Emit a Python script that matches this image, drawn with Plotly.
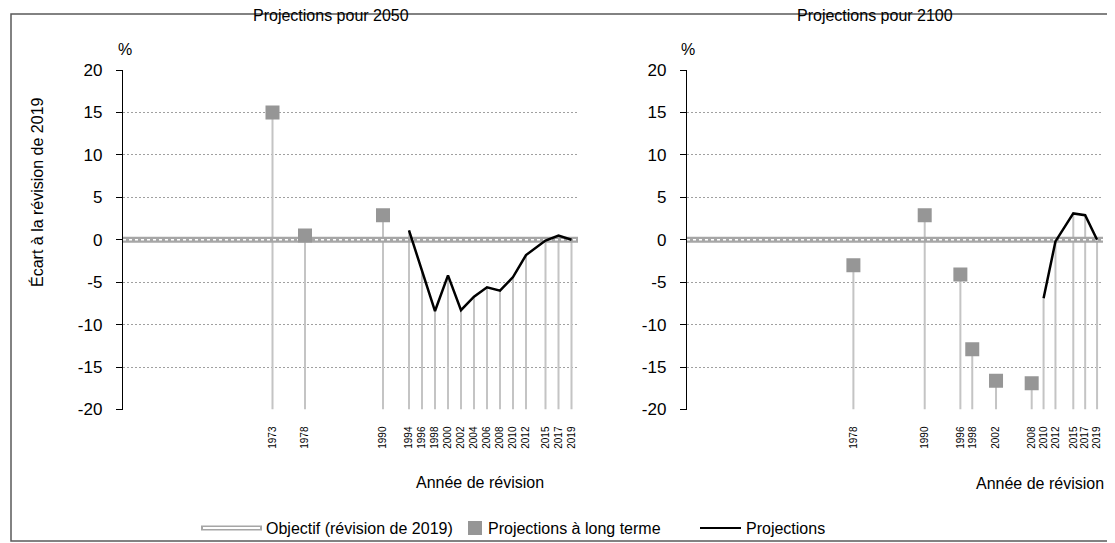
import plotly.graph_objects as go

# ---------------- Data ----------------
# Panel 1 : projections pour 2050
p1_lt_years = [1973, 1978, 1990]
p1_lt_values = [15.0, 0.5, 2.9]
p1_proj_years = [1994, 1996, 1998, 2000, 2002, 2004, 2006, 2008, 2010, 2012, 2015, 2017, 2019]
p1_proj_values = [1.1, -3.7, -8.4, -4.2, -8.3, -6.7, -5.6, -6.0, -4.4, -1.8, -0.1, 0.5, 0.0]

# Panel 2 : projections pour 2100
p2_lt_years = [1978, 1990, 1996, 1998, 2002, 2008]
p2_lt_values = [-3.0, 2.9, -4.1, -12.9, -16.6, -16.9]
p2_proj_years = [2010, 2012, 2015, 2017, 2019]
p2_proj_values = [-6.9, -0.2, 3.1, 2.9, 0.0]

objectif_value = 0.0
x_range = [1950, 2020]
y_ticks = [-20, -15, -10, -5, 0, 5, 10, 15, 20]
y_ticklabels = ["-20", "-15", "-10", "-5", "0", "5", "10", "15", "20"]

legend_labels = ["Objectif (révision de 2019)", "Projections à long terme", "Projections"]

FONT = "Liberation Sans, Arial, sans-serif"
SQ_COLOR = "#969696"
DROP_COLOR = "#c4c4c4"
OBJ_COLOR = "#a6a6a6"

# page body has an 8px margin: figure is placed at (8, 8) in the window
OFF = 8
W, H = 1115 - OFF, 543 - OFF


def px(sx):
    return (sx - OFF) / W


def py(sy):
    return 1 - (sy - OFF) / H


fig = go.Figure()


def drop_segments(years, values, base):
    xs, ys = [], []
    for yr, v in zip(years, values):
        xs += [yr, yr, None]
        ys += [base, v, None]
    return xs, ys


panels = [
    ("x", "y", p1_lt_years, p1_lt_values, p1_proj_years, p1_proj_values),
    ("x2", "y2", p2_lt_years, p2_lt_values, p2_proj_years, p2_proj_values),
]

for xa, ya, lty, ltv, pyr, pv in panels:
    # drop lines
    dx, dy = drop_segments(lty + pyr, ltv + pv, y_ticks[0])
    fig.add_trace(go.Scatter(x=dx, y=dy, mode="lines", xaxis=xa, yaxis=ya,
                             line=dict(color=DROP_COLOR, width=2),
                             hoverinfo="skip", showlegend=False))
    # objective line (double line: grey outer, white inner)
    fig.add_trace(go.Scatter(x=x_range, y=[objectif_value] * 2, mode="lines",
                             xaxis=xa, yaxis=ya,
                             line=dict(color=OBJ_COLOR, width=6),
                             name=legend_labels[0], showlegend=False))
    fig.add_trace(go.Scatter(x=x_range, y=[objectif_value] * 2, mode="lines",
                             xaxis=xa, yaxis=ya,
                             line=dict(color="#ffffff", width=1.5, dash="dot"),
                             hoverinfo="skip", showlegend=False))
    # long-term projections (squares)
    fig.add_trace(go.Scatter(x=lty, y=ltv, mode="markers", xaxis=xa, yaxis=ya,
                             marker=dict(symbol="square", size=14, color=SQ_COLOR),
                             name=legend_labels[1], showlegend=False))
    # projections line
    fig.add_trace(go.Scatter(x=pyr, y=pv, mode="lines", xaxis=xa, yaxis=ya,
                             line=dict(color="#000000", width=2.5),
                             name=legend_labels[2], showlegend=False))

yaxis_common = dict(
    range=[-20, 20], tickvals=y_ticks, ticktext=y_ticklabels,
    showline=True, linecolor="#000000", linewidth=1.3,
    ticks="outside", ticklen=6, tickcolor="#000000", tickwidth=1.3,
    showgrid=True, gridcolor="#a0a0a0", griddash="2px,2px", gridwidth=1,
    zeroline=False, tickfont=dict(size=17, color="#000000", family=FONT),
    ticklabelstandoff=10, automargin=False,
    domain=[py(409.5), py(70)],
)
xaxis_common = dict(
    range=x_range, showgrid=False, showline=False, zeroline=False,
    tickangle=-90, tickfont=dict(size=10, color="#000000", family=FONT),
    ticks="", ticklabelstandoff=14, automargin=False,
)

fig.update_layout(
    template="none",
    width=W, height=H,
    margin=dict(l=0, r=0, t=0, b=0, autoexpand=False),
    paper_bgcolor="#ffffff", plot_bgcolor="#ffffff",
    font=dict(family=FONT, size=16, color="#000000"),
    xaxis=dict(xaxis_common, domain=[px(123), px(578)], anchor="y",
               tickvals=p1_lt_years + p1_proj_years),
    yaxis=dict(yaxis_common, anchor="x"),
    xaxis2=dict(xaxis_common, domain=[px(687), px(1103)], anchor="y2",
                tickvals=p2_lt_years + p2_proj_years),
    yaxis2=dict(yaxis_common, anchor="x2"),
    showlegend=False,
)

ann = [
    dict(text="Projections pour 2050", x=px(331), y=py(16)),
    dict(text="Projections pour 2100", x=px(875), y=py(16)),
    dict(text="%", x=px(125), y=py(49)),
    dict(text="%", x=px(688), y=py(49)),
    dict(text="Année de révision", x=px(480), y=py(482)),
    dict(text="Année de révision", x=px(1040), y=py(483)),
    dict(text="Écart à la révision de 2019", x=px(37), y=py(192), textangle=-90),
]
for a in ann:
    fig.add_annotation(xref="paper", yref="paper", showarrow=False,
                       xanchor="center", yanchor="middle",
                       font=dict(size=16, family=FONT, color="#000000"), **a)

# ---- custom legend (glyphs + labels) ----
LY = 528
fig.add_shape(type="line", xref="paper", yref="paper",
              x0=px(201), x1=px(262), y0=py(LY), y1=py(LY),
              line=dict(color=OBJ_COLOR, width=5))
fig.add_shape(type="line", xref="paper", yref="paper",
              x0=px(203), x1=px(260), y0=py(LY), y1=py(LY),
              line=dict(color="#ffffff", width=2))
fig.add_shape(type="rect", xref="paper", yref="paper",
              x0=px(468), x1=px(482), y0=py(LY + 7), y1=py(LY - 7),
              line=dict(width=0), fillcolor=SQ_COLOR)
fig.add_shape(type="line", xref="paper", yref="paper",
              x0=px(700), x1=px(741), y0=py(LY), y1=py(LY),
              line=dict(color="#000000", width=2))
for label, sx in zip(legend_labels, [264, 486, 744]):
    fig.add_annotation(xref="paper", yref="paper", showarrow=False,
                       x=px(sx), y=py(LY), xanchor="left", yanchor="middle",
                       text=label, font=dict(size=16, family=FONT, color="#000000"))

# outer frame
fig.add_shape(type="rect", xref="paper", yref="paper",
              x0=px(11), x1=px(1112), y0=py(541), y1=py(14),
              line=dict(color="#595959", width=1.5), fillcolor="rgba(0,0,0,0)",
              layer="below")

fig.write_html("out.html")
